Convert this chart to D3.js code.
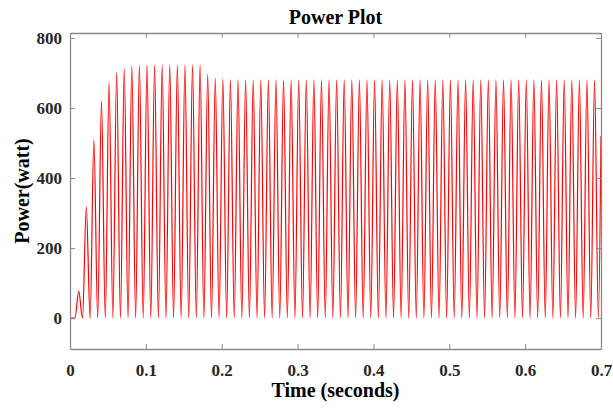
<!DOCTYPE html>
<html>
<head>
<meta charset="utf-8">
<script src="https://cdn.jsdelivr.net/npm/d3@7"></script>
<style>
  body { margin: 0; background: #fff; }
  .tick text { font-family: "Liberation Serif", "Times New Roman", serif; font-weight: bold; font-size: 17px; fill: #262626; }
</style>
</head>
<body>
<div id="chart"></div>
<script>
// values
var peakTime = [
  0.0115,0.0215,0.0315,0.0415,0.0515,0.0615,0.0715,0.0815,0.0915,
  0.1015,0.1115,0.1215,0.1315,0.1415,0.1515,0.1615,0.1715,0.1815,0.1915,
  0.2015,0.2115,0.2215,0.2315,0.2415,0.2515,0.2615,0.2715,0.2815,0.2915,
  0.3015,0.3115,0.3215,0.3315,0.3415,0.3515,0.3615,0.3715,0.3815,0.3915,
  0.4015,0.4115,0.4215,0.4315,0.4415,0.4515,0.4615,0.4715,0.4815,0.4915,
  0.5015,0.5115,0.5215,0.5315,0.5415,0.5515,0.5615,0.5715,0.5815,0.5915,
  0.6015,0.6115,0.6215,0.6315,0.6415,0.6515,0.6615,0.6715,0.6815,0.6915
];
var peakPower = [
  77,318,510,620,674,702,713,720,722,
  723,723,723,723,723,723,723,723,697,686,
  683,681,680,680,680,680,680,680,680,680,
  680,680,680,680,680,680,680,680,680,680,
  680,680,680,680,680,680,680,680,680,680,
  680,680,680,680,680,680,680,680,680,680,
  680,680,680,680,680,680,680,680,680,680
];
var troughTime = [
  0.0065,0.0165,0.0265,0.0365,0.0465,0.0565,0.0665,0.0765,0.0865,0.0965,
  0.1065,0.1165,0.1265,0.1365,0.1465,0.1565,0.1665,0.1765,0.1865,0.1965,
  0.2065,0.2165,0.2265,0.2365,0.2465,0.2565,0.2665,0.2765,0.2865,0.2965,
  0.3065,0.3165,0.3265,0.3365,0.3465,0.3565,0.3665,0.3765,0.3865,0.3965,
  0.4065,0.4165,0.4265,0.4365,0.4465,0.4565,0.4665,0.4765,0.4865,0.4965,
  0.5065,0.5165,0.5265,0.5365,0.5465,0.5565,0.5665,0.5765,0.5865,0.5965,
  0.6065,0.6165,0.6265,0.6365,0.6465,0.6565,0.6665,0.6765,0.6865,0.6965
];
var troughPower = 0;
var startPoint = {t: 0, p: 0};
var endPoint = {t: 0.7, p: 520};

var xTicks = [0, 0.1, 0.2, 0.3, 0.4, 0.5, 0.6, 0.7];
var yTicks = [0, 200, 400, 600, 800];

// margins
var margin = {top: 33, right: 12, bottom: 59, left: 70}
  , width = 613 - margin.left - margin.right
  , height = 408 - margin.top - margin.bottom;

// build the waveform points: start, then trough / peak alternating, then end
var points = [startPoint];
for (var i = 0; i < troughTime.length; i++) {
  points.push({t: troughTime[i], p: troughPower});
  if (i < peakTime.length) points.push({t: peakTime[i], p: peakPower[i]});
}
points.push(endPoint);

var xScale = d3.scaleLinear().domain([0, 0.7]).range([0, width]);
var yScale = d3.scaleLinear().domain([-88, 814]).range([height, 0]);

var svg = d3.select("#chart").append("svg")
    .attr("width", 613)
    .attr("height", 408)
  .append("g")
    .attr("transform", "translate(" + margin.left + "," + margin.top + ")");

var line = d3.line()
    .x(function(d) { return xScale(d.t); })
    .y(function(d) { return yScale(d.p); })
    .curve(d3.curveMonotoneX);

svg.append("defs").append("clipPath").attr("id", "clip")
  .append("rect").attr("width", width).attr("height", height);

svg.append("path")
    .datum(points)
    .attr("clip-path", "url(#clip)")
    .attr("fill", "none")
    .attr("stroke", "#ff0000")
    .attr("stroke-width", 1.2)
    .attr("d", line);

var axisColor = "#8a8a8a";

// bottom and left axes with labels, ticks pointing inward
var xAxis = svg.append("g")
    .attr("transform", "translate(0," + height + ")")
    .call(d3.axisBottom(xScale).tickValues(xTicks).tickSizeInner(-5).tickSizeOuter(0).tickPadding(15)
      .tickFormat(function(d) { return d === 0 ? "0" : d3.format(".1f")(d); }));

var yAxis = svg.append("g")
    .call(d3.axisLeft(yScale).tickValues(yTicks).tickSizeInner(-5).tickSizeOuter(0).tickPadding(8));

// top and right axes, ticks only
var xTop = svg.append("g")
    .call(d3.axisTop(xScale).tickValues(xTicks).tickSizeInner(-5).tickSizeOuter(0).tickFormat(""));
var yRight = svg.append("g")
    .attr("transform", "translate(" + width + ",0)")
    .call(d3.axisRight(yScale).tickValues(yTicks).tickSizeInner(-5).tickSizeOuter(0).tickFormat(""));

[xAxis, yAxis, xTop, yRight].forEach(function(a) {
  a.selectAll(".domain").attr("stroke", axisColor).attr("stroke-width", 1.3);
  a.selectAll(".tick line").attr("stroke", axisColor).attr("stroke-width", 1);
});

// title
svg.append("text")
    .attr("x", width / 2)
    .attr("y", -9)
    .attr("text-anchor", "middle")
    .style("font-family", "'Liberation Serif', serif")
    .style("font-weight", "bold")
    .style("font-size", "20px")
    .text("Power Plot");

// x label
svg.append("text")
    .attr("x", width / 2)
    .attr("y", height + 48)
    .attr("text-anchor", "middle")
    .style("font-family", "'Liberation Serif', serif")
    .style("font-weight", "bold")
    .style("font-size", "20px")
    .text("Time (seconds)");

// y label
svg.append("text")
    .attr("transform", "rotate(-90)")
    .attr("x", -height / 2)
    .attr("y", -margin.left + 29)
    .attr("text-anchor", "middle")
    .style("font-family", "'Liberation Serif', serif")
    .style("font-weight", "bold")
    .style("font-size", "20px")
    .text("Power(watt)");
</script>
</body>
</html>
